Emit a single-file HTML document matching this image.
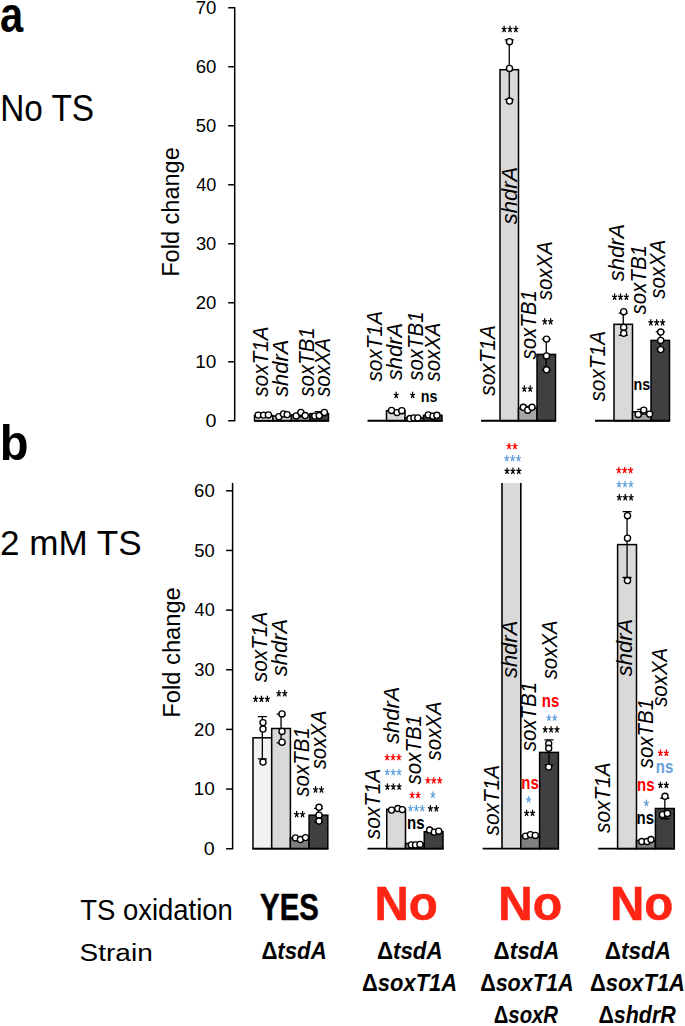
<!DOCTYPE html><html><head><meta charset="utf-8"><style>html,body{margin:0;padding:0;background:#fff}svg{display:block}text{font-family:"Liberation Sans",sans-serif}</style></head><body>
<svg width="685" height="1026" viewBox="0 0 685 1026">
<rect width="685" height="1026" fill="#fff"/>
<text transform="translate(-0.05,32.31) scale(0.8454,1)" font-size="49.32" font-weight="bold">a</text>
<text transform="translate(0.15,120.84) scale(0.9226,1)" font-size="36.18">No TS</text>
<text transform="translate(-0.26,460.4) scale(0.9516,1)" font-size="49.52" font-weight="bold">b</text>
<text transform="translate(-0,554.85) scale(0.9971,1)" font-size="35.19">2 mM TS</text>
<path d="M228.2 420.8H234.7V7.73H228.2" stroke="#000" stroke-width="1.5" fill="none" stroke-linejoin="miter"/>
<line x1="228.2" y1="361.79" x2="234.7" y2="361.79" stroke="#000" stroke-width="1.5"/>
<line x1="228.2" y1="302.78" x2="234.7" y2="302.78" stroke="#000" stroke-width="1.5"/>
<line x1="228.2" y1="243.77" x2="234.7" y2="243.77" stroke="#000" stroke-width="1.5"/>
<line x1="228.2" y1="184.76" x2="234.7" y2="184.76" stroke="#000" stroke-width="1.5"/>
<line x1="228.2" y1="125.75" x2="234.7" y2="125.75" stroke="#000" stroke-width="1.5"/>
<line x1="228.2" y1="66.74" x2="234.7" y2="66.74" stroke="#000" stroke-width="1.5"/>
<text transform="translate(205.41,426.92) scale(1.0714,1)" font-size="18.37">0</text>
<text transform="translate(195.17,367.91) scale(1.0366,1)" font-size="18.37">10</text>
<text transform="translate(195.67,308.9) scale(1.0113,1)" font-size="18.37">20</text>
<text transform="translate(195.91,249.89)" font-size="18.37">30</text>
<text transform="translate(196.19,190.88) scale(0.9848,1)" font-size="18.37">40</text>
<text transform="translate(195.86,131.87) scale(1.0015,1)" font-size="18.37">50</text>
<text transform="translate(195.67,72.86) scale(1.0113,1)" font-size="18.37">60</text>
<text transform="translate(195.67,13.85) scale(1.0113,1)" font-size="18.37">70</text>
<text transform="translate(179.19,276.84) rotate(-90) scale(1.0172,1)" font-size="23.16">Fold change</text>
<path d="M226.1 848.7H232.6V483" stroke="#000" stroke-width="1.5" fill="none" stroke-linejoin="miter"/>
<line x1="226.1" y1="789.05" x2="232.6" y2="789.05" stroke="#000" stroke-width="1.5"/>
<line x1="226.1" y1="729.4" x2="232.6" y2="729.4" stroke="#000" stroke-width="1.5"/>
<line x1="226.1" y1="669.75" x2="232.6" y2="669.75" stroke="#000" stroke-width="1.5"/>
<line x1="226.1" y1="610.1" x2="232.6" y2="610.1" stroke="#000" stroke-width="1.5"/>
<line x1="226.1" y1="550.45" x2="232.6" y2="550.45" stroke="#000" stroke-width="1.5"/>
<line x1="226.1" y1="490.8" x2="232.6" y2="490.8" stroke="#000" stroke-width="1.5"/>
<text transform="translate(203.81,854.82) scale(1.0714,1)" font-size="18.37">0</text>
<text transform="translate(193.57,795.17) scale(1.0366,1)" font-size="18.37">10</text>
<text transform="translate(194.07,735.52) scale(1.0113,1)" font-size="18.37">20</text>
<text transform="translate(194.31,675.87)" font-size="18.37">30</text>
<text transform="translate(194.59,616.22) scale(0.9848,1)" font-size="18.37">40</text>
<text transform="translate(194.26,556.57) scale(1.0015,1)" font-size="18.37">50</text>
<text transform="translate(194.07,496.92) scale(1.0113,1)" font-size="18.37">60</text>
<text transform="translate(179.82,717.66) rotate(-90) scale(0.9870,1)" font-size="24.02">Fold change</text>
<rect x="254.5" y="415.5" width="18.5" height="5.25" fill="#f2f2f2" stroke="#000" stroke-width="1.5"/>
<rect x="273" y="416.1" width="18.5" height="4.65" fill="#d9d9d9" stroke="#000" stroke-width="1.5"/>
<rect x="291.5" y="414.9" width="18.5" height="5.85" fill="#a6a6a6" stroke="#000" stroke-width="1.5"/>
<rect x="310" y="413.6" width="18.5" height="7.15" fill="#404040" stroke="#000" stroke-width="1.5"/>
<line x1="254" y1="420.75" x2="329" y2="420.75" stroke="#000" stroke-width="1.8"/>
<path d="M300.75 412.98V416.82M296.25 412.98H305.25M296.25 416.82H305.25" stroke="#000" stroke-width="1.3" fill="none"/>
<path d="M319.25 411.61V415.59M314.75 411.61H323.75M314.75 415.59H323.75" stroke="#000" stroke-width="1.3" fill="none"/>
<circle cx="258.1" cy="415.1" r="3.05" fill="#fff" stroke="#000" stroke-width="1.35"/>
<circle cx="263.6" cy="415.1" r="3.05" fill="#fff" stroke="#000" stroke-width="1.35"/>
<circle cx="268.4" cy="414.9" r="3.05" fill="#fff" stroke="#000" stroke-width="1.35"/>
<circle cx="278.8" cy="416.7" r="3.05" fill="#fff" stroke="#000" stroke-width="1.35"/>
<circle cx="283.5" cy="413.9" r="3.05" fill="#fff" stroke="#000" stroke-width="1.35"/>
<circle cx="287.2" cy="414.6" r="3.05" fill="#fff" stroke="#000" stroke-width="1.35"/>
<circle cx="296.2" cy="415.9" r="3.05" fill="#fff" stroke="#000" stroke-width="1.35"/>
<circle cx="300.9" cy="412.4" r="3.05" fill="#fff" stroke="#000" stroke-width="1.35"/>
<circle cx="305.2" cy="415.5" r="3.05" fill="#fff" stroke="#000" stroke-width="1.35"/>
<circle cx="314.8" cy="416.1" r="3.05" fill="#fff" stroke="#000" stroke-width="1.35"/>
<circle cx="319.2" cy="415.5" r="3.05" fill="#fff" stroke="#000" stroke-width="1.35"/>
<circle cx="324.4" cy="412.4" r="3.05" fill="#fff" stroke="#000" stroke-width="1.35"/>
<text transform="translate(267.88,396.85) rotate(-90) scale(0.9381,1)" font-size="22.2" font-style="italic">soxT1A</text>
<text transform="translate(287.98,396.85) rotate(-90) scale(0.9891,1)" font-size="22.2" font-style="italic">shdrA</text>
<text transform="translate(313.78,396.65) rotate(-90) scale(0.9227,1)" font-size="22.2" font-style="italic">soxTB1</text>
<text transform="translate(330.18,396.85) rotate(-90) scale(0.9208,1)" font-size="22.2" font-style="italic">soxXA</text>
<rect x="386.5" y="410.7" width="18.5" height="10.05" fill="#d9d9d9" stroke="#000" stroke-width="1.5"/>
<rect x="405" y="417.9" width="18.5" height="2.85" fill="#a6a6a6" stroke="#000" stroke-width="1.5"/>
<rect x="423.5" y="415.3" width="18.5" height="5.45" fill="#404040" stroke="#000" stroke-width="1.5"/>
<line x1="367.5" y1="420.75" x2="442.5" y2="420.75" stroke="#000" stroke-width="1.8"/>
<circle cx="391.5" cy="410.4" r="3.05" fill="#fff" stroke="#000" stroke-width="1.35"/>
<circle cx="397" cy="412.6" r="3.05" fill="#fff" stroke="#000" stroke-width="1.35"/>
<circle cx="401.8" cy="410.7" r="3.05" fill="#fff" stroke="#000" stroke-width="1.35"/>
<circle cx="410" cy="418.5" r="3.05" fill="#fff" stroke="#000" stroke-width="1.35"/>
<circle cx="413.9" cy="417.9" r="3.05" fill="#fff" stroke="#000" stroke-width="1.35"/>
<circle cx="417.8" cy="417.9" r="3.05" fill="#fff" stroke="#000" stroke-width="1.35"/>
<circle cx="428.3" cy="414.9" r="3.05" fill="#fff" stroke="#000" stroke-width="1.35"/>
<circle cx="433" cy="416.2" r="3.05" fill="#fff" stroke="#000" stroke-width="1.35"/>
<circle cx="436.9" cy="415.3" r="3.05" fill="#fff" stroke="#000" stroke-width="1.35"/>
<path d="M396.20 395.19L396.20 392.19M396.20 395.19L398.25 394.26M396.20 395.19L397.47 397.61M396.20 395.19L394.93 397.61M396.20 395.19L394.15 394.26" stroke="#000" stroke-width="1.25" stroke-linecap="round" fill="none"/>
<path d="M412.60 395.19L412.60 392.19M412.60 395.19L414.65 394.26M412.60 395.19L413.87 397.61M412.60 395.19L411.33 397.61M412.60 395.19L410.55 394.26" stroke="#000" stroke-width="1.25" stroke-linecap="round" fill="none"/>
<text transform="translate(420.76,402.03) scale(0.86,1)" font-size="16.6" font-weight="bold">ns</text>
<text transform="translate(381.88,381.55) rotate(-90) scale(0.9381,1)" font-size="22.2" font-style="italic">soxT1A</text>
<text transform="translate(401.58,380.15) rotate(-90) scale(0.9891,1)" font-size="22.2" font-style="italic">shdrA</text>
<text transform="translate(423.48,380.85) rotate(-90) scale(0.9227,1)" font-size="22.2" font-style="italic">soxTB1</text>
<text transform="translate(439.88,381.55) rotate(-90) scale(0.9208,1)" font-size="22.2" font-style="italic">soxXA</text>
<rect x="500" y="69.7" width="18.5" height="351.05" fill="#d9d9d9" stroke="#000" stroke-width="1.5"/>
<rect x="518.5" y="408" width="18.5" height="12.75" fill="#a6a6a6" stroke="#000" stroke-width="1.5"/>
<rect x="537" y="354.4" width="18.5" height="66.35" fill="#404040" stroke="#000" stroke-width="1.5"/>
<line x1="481" y1="420.75" x2="556" y2="420.75" stroke="#000" stroke-width="1.8"/>
<path d="M509.25 39.95V99.45M504.75 39.95H513.75M504.75 99.45H513.75" stroke="#000" stroke-width="1.3" fill="none"/>
<path d="M527.75 406.33V409.67M523.25 406.33H532.25M523.25 409.67H532.25" stroke="#000" stroke-width="1.3" fill="none"/>
<path d="M546.25 339.03V369.77M541.75 339.03H550.75M541.75 369.77H550.75" stroke="#000" stroke-width="1.3" fill="none"/>
<circle cx="509.5" cy="41.7" r="3.05" fill="#fff" stroke="#000" stroke-width="1.35"/>
<circle cx="509.5" cy="68.4" r="3.05" fill="#fff" stroke="#000" stroke-width="1.35"/>
<circle cx="509.5" cy="101.1" r="3.05" fill="#fff" stroke="#000" stroke-width="1.35"/>
<circle cx="523.3" cy="407.3" r="3.05" fill="#fff" stroke="#000" stroke-width="1.35"/>
<circle cx="527.7" cy="410.2" r="3.05" fill="#fff" stroke="#000" stroke-width="1.35"/>
<circle cx="532" cy="407.3" r="3.05" fill="#fff" stroke="#000" stroke-width="1.35"/>
<circle cx="546.5" cy="339.1" r="3.05" fill="#fff" stroke="#000" stroke-width="1.35"/>
<circle cx="546.5" cy="355.9" r="3.05" fill="#fff" stroke="#000" stroke-width="1.35"/>
<circle cx="546.5" cy="369.8" r="3.05" fill="#fff" stroke="#000" stroke-width="1.35"/>
<path d="M504.10 29.19L504.10 26.19M504.10 29.19L506.15 28.26M504.10 29.19L505.37 31.61M504.10 29.19L502.83 31.61M504.10 29.19L502.05 28.26M510.00 29.19L510.00 26.19M510.00 29.19L512.05 28.26M510.00 29.19L511.27 31.61M510.00 29.19L508.73 31.61M510.00 29.19L507.95 28.26M515.90 29.19L515.90 26.19M515.90 29.19L517.95 28.26M515.90 29.19L517.17 31.61M515.90 29.19L514.63 31.61M515.90 29.19L513.85 28.26" stroke="#000" stroke-width="1.25" stroke-linecap="round" fill="none"/>
<path d="M524.35 388.89L524.35 385.89M524.35 388.89L526.40 387.96M524.35 388.89L525.62 391.31M524.35 388.89L523.08 391.31M524.35 388.89L522.30 387.96M530.25 388.89L530.25 385.89M530.25 388.89L532.30 387.96M530.25 388.89L531.52 391.31M530.25 388.89L528.98 391.31M530.25 388.89L528.20 387.96" stroke="#000" stroke-width="1.25" stroke-linecap="round" fill="none"/>
<path d="M544.75 321.59L544.75 318.59M544.75 321.59L546.80 320.66M544.75 321.59L546.02 324.01M544.75 321.59L543.48 324.01M544.75 321.59L542.70 320.66M550.65 321.59L550.65 318.59M550.65 321.59L552.70 320.66M550.65 321.59L551.92 324.01M550.65 321.59L549.38 324.01M550.65 321.59L548.60 320.66" stroke="#000" stroke-width="1.25" stroke-linecap="round" fill="none"/>
<text transform="translate(494.58,395.65) rotate(-90) scale(0.9381,1)" font-size="22.2" font-style="italic">soxT1A</text>
<text transform="translate(516.78,224.15) rotate(-90) scale(0.9891,1)" font-size="22.2" font-style="italic">shdrA</text>
<text transform="translate(535.68,359.55) rotate(-90) scale(0.9227,1)" font-size="22.2" font-style="italic">soxTB1</text>
<text transform="translate(552.28,300.25) rotate(-90) scale(0.9208,1)" font-size="22.2" font-style="italic">soxXA</text>
<rect x="614" y="324.3" width="18.5" height="96.45" fill="#d9d9d9" stroke="#000" stroke-width="1.5"/>
<rect x="632.5" y="411.8" width="18.5" height="8.95" fill="#a6a6a6" stroke="#000" stroke-width="1.5"/>
<rect x="651" y="340.4" width="18.5" height="80.35" fill="#404040" stroke="#000" stroke-width="1.5"/>
<line x1="595" y1="420.75" x2="670" y2="420.75" stroke="#000" stroke-width="1.8"/>
<path d="M623.25 313.14V335.46M618.75 313.14H627.75M618.75 335.46H627.75" stroke="#000" stroke-width="1.3" fill="none"/>
<path d="M641.75 409.4V414.2M637.25 409.4H646.25M637.25 414.2H646.25" stroke="#000" stroke-width="1.3" fill="none"/>
<path d="M660.25 331.6V349.2M655.75 331.6H664.75M655.75 349.2H664.75" stroke="#000" stroke-width="1.3" fill="none"/>
<circle cx="623.7" cy="311.7" r="3.05" fill="#fff" stroke="#000" stroke-width="1.35"/>
<circle cx="623.7" cy="327.4" r="3.05" fill="#fff" stroke="#000" stroke-width="1.35"/>
<circle cx="623.7" cy="333.3" r="3.05" fill="#fff" stroke="#000" stroke-width="1.35"/>
<circle cx="638.2" cy="414.4" r="3.05" fill="#fff" stroke="#000" stroke-width="1.35"/>
<circle cx="643.7" cy="410.1" r="3.05" fill="#fff" stroke="#000" stroke-width="1.35"/>
<circle cx="649.6" cy="414.1" r="3.05" fill="#fff" stroke="#000" stroke-width="1.35"/>
<circle cx="660.7" cy="332" r="3.05" fill="#fff" stroke="#000" stroke-width="1.35"/>
<circle cx="660.7" cy="340.4" r="3.05" fill="#fff" stroke="#000" stroke-width="1.35"/>
<circle cx="660.7" cy="349.6" r="3.05" fill="#fff" stroke="#000" stroke-width="1.35"/>
<path d="M614.60 296.99L614.60 293.99M614.60 296.99L616.65 296.06M614.60 296.99L615.87 299.41M614.60 296.99L613.33 299.41M614.60 296.99L612.55 296.06M620.50 296.99L620.50 293.99M620.50 296.99L622.55 296.06M620.50 296.99L621.77 299.41M620.50 296.99L619.23 299.41M620.50 296.99L618.45 296.06M626.40 296.99L626.40 293.99M626.40 296.99L628.45 296.06M626.40 296.99L627.67 299.41M626.40 296.99L625.13 299.41M626.40 296.99L624.35 296.06" stroke="#000" stroke-width="1.25" stroke-linecap="round" fill="none"/>
<text transform="translate(633.51,390.18) scale(0.86,1)" font-size="16.6" font-weight="bold">ns</text>
<path d="M650.80 322.59L650.80 319.59M650.80 322.59L652.85 321.66M650.80 322.59L652.07 325.01M650.80 322.59L649.53 325.01M650.80 322.59L648.75 321.66M656.70 322.59L656.70 319.59M656.70 322.59L658.75 321.66M656.70 322.59L657.97 325.01M656.70 322.59L655.43 325.01M656.70 322.59L654.65 321.66M662.60 322.59L662.60 319.59M662.60 322.59L664.65 321.66M662.60 322.59L663.87 325.01M662.60 322.59L661.33 325.01M662.60 322.59L660.55 321.66" stroke="#000" stroke-width="1.25" stroke-linecap="round" fill="none"/>
<text transform="translate(605.48,401.55) rotate(-90) scale(0.9381,1)" font-size="22.2" font-style="italic">soxT1A</text>
<text transform="translate(624.08,281.15) rotate(-90) scale(0.9891,1)" font-size="22.2" font-style="italic">shdrA</text>
<text transform="translate(646.28,314.45) rotate(-90) scale(0.9227,1)" font-size="22.2" font-style="italic">soxTB1</text>
<text transform="translate(664.78,298.75) rotate(-90) scale(0.9208,1)" font-size="22.2" font-style="italic">soxXA</text>
<rect x="253" y="737.8" width="18.7" height="110.9" fill="#f2f2f2" stroke="#000" stroke-width="1.5"/>
<rect x="271.7" y="728.5" width="18.7" height="120.2" fill="#d9d9d9" stroke="#000" stroke-width="1.5"/>
<rect x="290.4" y="838" width="18.7" height="10.7" fill="#808080" stroke="#000" stroke-width="1.5"/>
<rect x="309.1" y="815.2" width="18.7" height="33.5" fill="#404040" stroke="#000" stroke-width="1.5"/>
<line x1="252.5" y1="848.7" x2="328.3" y2="848.7" stroke="#000" stroke-width="1.8"/>
<path d="M262.35 716.66V758.94M257.85 716.66H266.85M257.85 758.94H266.85" stroke="#000" stroke-width="1.3" fill="none"/>
<path d="M281.05 714.22V742.78M276.55 714.22H285.55M276.55 742.78H285.55" stroke="#000" stroke-width="1.3" fill="none"/>
<path d="M318.45 808.32V822.08M313.95 808.32H322.95M313.95 822.08H322.95" stroke="#000" stroke-width="1.3" fill="none"/>
<circle cx="263" cy="722.6" r="3.05" fill="#fff" stroke="#000" stroke-width="1.35"/>
<circle cx="263" cy="729" r="3.05" fill="#fff" stroke="#000" stroke-width="1.35"/>
<circle cx="263" cy="762" r="3.05" fill="#fff" stroke="#000" stroke-width="1.35"/>
<circle cx="282" cy="713.9" r="3.05" fill="#fff" stroke="#000" stroke-width="1.35"/>
<circle cx="282" cy="731.4" r="3.05" fill="#fff" stroke="#000" stroke-width="1.35"/>
<circle cx="282" cy="742.2" r="3.05" fill="#fff" stroke="#000" stroke-width="1.35"/>
<circle cx="295.5" cy="837.9" r="3.05" fill="#fff" stroke="#000" stroke-width="1.35"/>
<circle cx="300.4" cy="839.5" r="3.05" fill="#fff" stroke="#000" stroke-width="1.35"/>
<circle cx="305.5" cy="837.6" r="3.05" fill="#fff" stroke="#000" stroke-width="1.35"/>
<circle cx="319" cy="807.3" r="3.05" fill="#fff" stroke="#000" stroke-width="1.35"/>
<circle cx="319" cy="815.2" r="3.05" fill="#fff" stroke="#000" stroke-width="1.35"/>
<circle cx="319" cy="821" r="3.05" fill="#fff" stroke="#000" stroke-width="1.35"/>
<path d="M255.60 699.09L255.60 696.09M255.60 699.09L257.65 698.16M255.60 699.09L256.87 701.51M255.60 699.09L254.33 701.51M255.60 699.09L253.55 698.16M261.50 699.09L261.50 696.09M261.50 699.09L263.55 698.16M261.50 699.09L262.77 701.51M261.50 699.09L260.23 701.51M261.50 699.09L259.45 698.16M267.40 699.09L267.40 696.09M267.40 699.09L269.45 698.16M267.40 699.09L268.67 701.51M267.40 699.09L266.13 701.51M267.40 699.09L265.35 698.16" stroke="#000" stroke-width="1.25" stroke-linecap="round" fill="none"/>
<path d="M278.85 693.49L278.85 690.49M278.85 693.49L280.90 692.56M278.85 693.49L280.12 695.91M278.85 693.49L277.58 695.91M278.85 693.49L276.80 692.56M284.75 693.49L284.75 690.49M284.75 693.49L286.80 692.56M284.75 693.49L286.02 695.91M284.75 693.49L283.48 695.91M284.75 693.49L282.70 692.56" stroke="#000" stroke-width="1.25" stroke-linecap="round" fill="none"/>
<path d="M296.65 814.39L296.65 811.39M296.65 814.39L298.70 813.46M296.65 814.39L297.92 816.81M296.65 814.39L295.38 816.81M296.65 814.39L294.60 813.46M302.55 814.39L302.55 811.39M302.55 814.39L304.60 813.46M302.55 814.39L303.82 816.81M302.55 814.39L301.28 816.81M302.55 814.39L300.50 813.46" stroke="#000" stroke-width="1.25" stroke-linecap="round" fill="none"/>
<path d="M315.55 789.69L315.55 786.69M315.55 789.69L317.60 788.76M315.55 789.69L316.82 792.11M315.55 789.69L314.28 792.11M315.55 789.69L313.50 788.76M321.45 789.69L321.45 786.69M321.45 789.69L323.50 788.76M321.45 789.69L322.72 792.11M321.45 789.69L320.18 792.11M321.45 789.69L319.40 788.76" stroke="#000" stroke-width="1.25" stroke-linecap="round" fill="none"/>
<text transform="translate(267.08,682.15) rotate(-90) scale(0.9381,1)" font-size="22.2" font-style="italic">soxT1A</text>
<text transform="translate(287.48,676.25) rotate(-90) scale(0.9891,1)" font-size="22.2" font-style="italic">shdrA</text>
<text transform="translate(309.38,796.65) rotate(-90) scale(0.9227,1)" font-size="22.2" font-style="italic">soxTB1</text>
<text transform="translate(325.78,769.35) rotate(-90) scale(0.9208,1)" font-size="22.2" font-style="italic">soxXA</text>
<rect x="386.75" y="809.3" width="18.75" height="39.4" fill="#d9d9d9" stroke="#000" stroke-width="1.5"/>
<rect x="405.5" y="843.5" width="18.75" height="5.2" fill="#808080" stroke="#000" stroke-width="1.5"/>
<rect x="424.25" y="831.7" width="18.75" height="17" fill="#404040" stroke="#000" stroke-width="1.5"/>
<line x1="367.5" y1="848.7" x2="443.5" y2="848.7" stroke="#000" stroke-width="1.8"/>
<circle cx="391.5" cy="810.1" r="3.05" fill="#fff" stroke="#000" stroke-width="1.35"/>
<circle cx="397.8" cy="808.5" r="3.05" fill="#fff" stroke="#000" stroke-width="1.35"/>
<circle cx="402.3" cy="809.6" r="3.05" fill="#fff" stroke="#000" stroke-width="1.35"/>
<circle cx="411.4" cy="844.9" r="3.05" fill="#fff" stroke="#000" stroke-width="1.35"/>
<circle cx="415.5" cy="844.9" r="3.05" fill="#fff" stroke="#000" stroke-width="1.35"/>
<circle cx="420" cy="844.4" r="3.05" fill="#fff" stroke="#000" stroke-width="1.35"/>
<circle cx="429.6" cy="830" r="3.05" fill="#fff" stroke="#000" stroke-width="1.35"/>
<circle cx="434.3" cy="832.2" r="3.05" fill="#fff" stroke="#000" stroke-width="1.35"/>
<circle cx="438.7" cy="831.2" r="3.05" fill="#fff" stroke="#000" stroke-width="1.35"/>
<path d="M387.10 757.39L387.10 754.39M387.10 757.39L389.15 756.46M387.10 757.39L388.37 759.81M387.10 757.39L385.83 759.81M387.10 757.39L385.05 756.46M393.00 757.39L393.00 754.39M393.00 757.39L395.05 756.46M393.00 757.39L394.27 759.81M393.00 757.39L391.73 759.81M393.00 757.39L390.95 756.46M398.90 757.39L398.90 754.39M398.90 757.39L400.95 756.46M398.90 757.39L400.17 759.81M398.90 757.39L397.63 759.81M398.90 757.39L396.85 756.46" stroke="#ff0000" stroke-width="1.25" stroke-linecap="round" fill="none"/>
<path d="M387.30 772.29L387.30 769.29M387.30 772.29L389.35 771.36M387.30 772.29L388.57 774.71M387.30 772.29L386.03 774.71M387.30 772.29L385.25 771.36M393.20 772.29L393.20 769.29M393.20 772.29L395.25 771.36M393.20 772.29L394.47 774.71M393.20 772.29L391.93 774.71M393.20 772.29L391.15 771.36M399.10 772.29L399.10 769.29M399.10 772.29L401.15 771.36M399.10 772.29L400.37 774.71M399.10 772.29L397.83 774.71M399.10 772.29L397.05 771.36" stroke="#66a3dd" stroke-width="1.25" stroke-linecap="round" fill="none"/>
<path d="M387.40 786.79L387.40 783.79M387.40 786.79L389.45 785.86M387.40 786.79L388.67 789.21M387.40 786.79L386.13 789.21M387.40 786.79L385.35 785.86M393.30 786.79L393.30 783.79M393.30 786.79L395.35 785.86M393.30 786.79L394.57 789.21M393.30 786.79L392.03 789.21M393.30 786.79L391.25 785.86M399.20 786.79L399.20 783.79M399.20 786.79L401.25 785.86M399.20 786.79L400.47 789.21M399.20 786.79L397.93 789.21M399.20 786.79L397.15 785.86" stroke="#000" stroke-width="1.25" stroke-linecap="round" fill="none"/>
<path d="M412.15 795.19L412.15 792.19M412.15 795.19L414.20 794.26M412.15 795.19L413.42 797.61M412.15 795.19L410.88 797.61M412.15 795.19L410.10 794.26M418.05 795.19L418.05 792.19M418.05 795.19L420.10 794.26M418.05 795.19L419.32 797.61M418.05 795.19L416.78 797.61M418.05 795.19L416.00 794.26" stroke="#ff0000" stroke-width="1.25" stroke-linecap="round" fill="none"/>
<path d="M410.50 808.39L410.50 805.39M410.50 808.39L412.55 807.46M410.50 808.39L411.77 810.81M410.50 808.39L409.23 810.81M410.50 808.39L408.45 807.46M416.40 808.39L416.40 805.39M416.40 808.39L418.45 807.46M416.40 808.39L417.67 810.81M416.40 808.39L415.13 810.81M416.40 808.39L414.35 807.46M422.30 808.39L422.30 805.39M422.30 808.39L424.35 807.46M422.30 808.39L423.57 810.81M422.30 808.39L421.03 810.81M422.30 808.39L420.25 807.46" stroke="#66a3dd" stroke-width="1.25" stroke-linecap="round" fill="none"/>
<text transform="translate(407.05,829.22) scale(0.86,1)" font-size="17.5" font-weight="bold">ns</text>
<path d="M427.90 780.59L427.90 777.59M427.90 780.59L429.95 779.66M427.90 780.59L429.17 783.01M427.90 780.59L426.63 783.01M427.90 780.59L425.85 779.66M433.80 780.59L433.80 777.59M433.80 780.59L435.85 779.66M433.80 780.59L435.07 783.01M433.80 780.59L432.53 783.01M433.80 780.59L431.75 779.66M439.70 780.59L439.70 777.59M439.70 780.59L441.75 779.66M439.70 780.59L440.97 783.01M439.70 780.59L438.43 783.01M439.70 780.59L437.65 779.66" stroke="#ff0000" stroke-width="1.25" stroke-linecap="round" fill="none"/>
<path d="M432.90 794.89L432.90 791.89M432.90 794.89L434.95 793.96M432.90 794.89L434.17 797.31M432.90 794.89L431.63 797.31M432.90 794.89L430.85 793.96" stroke="#66a3dd" stroke-width="1.25" stroke-linecap="round" fill="none"/>
<path d="M430.45 808.59L430.45 805.59M430.45 808.59L432.50 807.66M430.45 808.59L431.72 811.01M430.45 808.59L429.18 811.01M430.45 808.59L428.40 807.66M436.35 808.59L436.35 805.59M436.35 808.59L438.40 807.66M436.35 808.59L437.62 811.01M436.35 808.59L435.08 811.01M436.35 808.59L434.30 807.66" stroke="#000" stroke-width="1.25" stroke-linecap="round" fill="none"/>
<text transform="translate(380.48,839.15) rotate(-90) scale(0.9381,1)" font-size="22.2" font-style="italic">soxT1A</text>
<text transform="translate(398.78,743.85) rotate(-90) scale(0.9891,1)" font-size="22.2" font-style="italic">shdrA</text>
<text transform="translate(420.78,784.45) rotate(-90) scale(0.9227,1)" font-size="22.2" font-style="italic">soxTB1</text>
<text transform="translate(440.68,760.45) rotate(-90) scale(0.9208,1)" font-size="22.2" font-style="italic">soxXA</text>
<rect x="502" y="483.1" width="18.8" height="365.6" fill="#d9d9d9"/>
<path d="M502 483.1V848.7M520.8 483.1V848.7" stroke="#000" stroke-width="1.6" fill="none"/>
<rect x="520.8" y="836" width="18.8" height="12.7" fill="#808080" stroke="#000" stroke-width="1.5"/>
<rect x="539.6" y="752.4" width="18.8" height="96.3" fill="#404040" stroke="#000" stroke-width="1.5"/>
<line x1="482.7" y1="848.7" x2="558.9" y2="848.7" stroke="#000" stroke-width="1.8"/>
<path d="M549 739.96V764.84M544.5 739.96H553.5M544.5 764.84H553.5" stroke="#000" stroke-width="1.3" fill="none"/>
<circle cx="525.6" cy="836.1" r="3.05" fill="#fff" stroke="#000" stroke-width="1.35"/>
<circle cx="530.4" cy="834.6" r="3.05" fill="#fff" stroke="#000" stroke-width="1.35"/>
<circle cx="535.3" cy="835.4" r="3.05" fill="#fff" stroke="#000" stroke-width="1.35"/>
<circle cx="548.7" cy="743.6" r="3.05" fill="#fff" stroke="#000" stroke-width="1.35"/>
<circle cx="548.7" cy="748.3" r="3.05" fill="#fff" stroke="#000" stroke-width="1.35"/>
<circle cx="548.7" cy="767.1" r="3.05" fill="#fff" stroke="#000" stroke-width="1.35"/>
<path d="M509.05 446.29L509.05 443.29M509.05 446.29L511.10 445.36M509.05 446.29L510.32 448.71M509.05 446.29L507.78 448.71M509.05 446.29L507.00 445.36M514.95 446.29L514.95 443.29M514.95 446.29L517.00 445.36M514.95 446.29L516.22 448.71M514.95 446.29L513.68 448.71M514.95 446.29L512.90 445.36" stroke="#ff0000" stroke-width="1.25" stroke-linecap="round" fill="none"/>
<path d="M506.70 458.39L506.70 455.39M506.70 458.39L508.75 457.46M506.70 458.39L507.97 460.81M506.70 458.39L505.43 460.81M506.70 458.39L504.65 457.46M512.60 458.39L512.60 455.39M512.60 458.39L514.65 457.46M512.60 458.39L513.87 460.81M512.60 458.39L511.33 460.81M512.60 458.39L510.55 457.46M518.50 458.39L518.50 455.39M518.50 458.39L520.55 457.46M518.50 458.39L519.77 460.81M518.50 458.39L517.23 460.81M518.50 458.39L516.45 457.46" stroke="#66a3dd" stroke-width="1.25" stroke-linecap="round" fill="none"/>
<path d="M507.00 471.09L507.00 468.09M507.00 471.09L509.05 470.16M507.00 471.09L508.27 473.51M507.00 471.09L505.73 473.51M507.00 471.09L504.95 470.16M512.90 471.09L512.90 468.09M512.90 471.09L514.95 470.16M512.90 471.09L514.17 473.51M512.90 471.09L511.63 473.51M512.90 471.09L510.85 470.16M518.80 471.09L518.80 468.09M518.80 471.09L520.85 470.16M518.80 471.09L520.07 473.51M518.80 471.09L517.53 473.51M518.80 471.09L516.75 470.16" stroke="#000" stroke-width="1.25" stroke-linecap="round" fill="none"/>
<text transform="translate(521.25,789.12) scale(0.86,1)" font-size="17.5" font-weight="bold" fill="#ff0000">ns</text>
<path d="M528.60 799.59L528.60 796.59M528.60 799.59L530.65 798.66M528.60 799.59L529.87 802.01M528.60 799.59L527.33 802.01M528.60 799.59L526.55 798.66" stroke="#66a3dd" stroke-width="1.25" stroke-linecap="round" fill="none"/>
<path d="M526.65 813.09L526.65 810.09M526.65 813.09L528.70 812.16M526.65 813.09L527.92 815.51M526.65 813.09L525.38 815.51M526.65 813.09L524.60 812.16M532.55 813.09L532.55 810.09M532.55 813.09L534.60 812.16M532.55 813.09L533.82 815.51M532.55 813.09L531.28 815.51M532.55 813.09L530.50 812.16" stroke="#000" stroke-width="1.25" stroke-linecap="round" fill="none"/>
<text transform="translate(541.85,707.32) scale(0.86,1)" font-size="17.5" font-weight="bold" fill="#ff0000">ns</text>
<path d="M548.85 717.89L548.85 714.89M548.85 717.89L550.90 716.96M548.85 717.89L550.12 720.31M548.85 717.89L547.58 720.31M548.85 717.89L546.80 716.96M554.75 717.89L554.75 714.89M554.75 717.89L556.80 716.96M554.75 717.89L556.02 720.31M554.75 717.89L553.48 720.31M554.75 717.89L552.70 716.96" stroke="#66a3dd" stroke-width="1.25" stroke-linecap="round" fill="none"/>
<path d="M545.20 729.59L545.20 726.59M545.20 729.59L547.25 728.66M545.20 729.59L546.47 732.01M545.20 729.59L543.93 732.01M545.20 729.59L543.15 728.66M551.10 729.59L551.10 726.59M551.10 729.59L553.15 728.66M551.10 729.59L552.37 732.01M551.10 729.59L549.83 732.01M551.10 729.59L549.05 728.66M557.00 729.59L557.00 726.59M557.00 729.59L559.05 728.66M557.00 729.59L558.27 732.01M557.00 729.59L555.73 732.01M557.00 729.59L554.95 728.66" stroke="#000" stroke-width="1.25" stroke-linecap="round" fill="none"/>
<text transform="translate(499.28,835.45) rotate(-90) scale(0.9381,1)" font-size="22.2" font-style="italic">soxT1A</text>
<text transform="translate(517.28,678.05) rotate(-90) scale(0.9891,1)" font-size="22.2" font-style="italic">shdrA</text>
<text transform="translate(536.28,751.25) rotate(-90) scale(0.9227,1)" font-size="22.2" font-style="italic">soxTB1</text>
<text transform="translate(557.08,679.35) rotate(-90) scale(0.9208,1)" font-size="22.2" font-style="italic">soxXA</text>
<rect x="617.6" y="544.6" width="18.9" height="304.1" fill="#d9d9d9" stroke="#000" stroke-width="1.5"/>
<rect x="636.5" y="840.5" width="18.9" height="8.2" fill="#808080" stroke="#000" stroke-width="1.5"/>
<rect x="655.4" y="808.5" width="18.9" height="40.2" fill="#404040" stroke="#000" stroke-width="1.5"/>
<line x1="598.2" y1="848.7" x2="674.8" y2="848.7" stroke="#000" stroke-width="1.8"/>
<path d="M627.05 511.7V577.5M622.55 511.7H631.55M622.55 577.5H631.55" stroke="#000" stroke-width="1.3" fill="none"/>
<path d="M664.85 798.26V818.74M660.35 798.26H669.35M660.35 818.74H669.35" stroke="#000" stroke-width="1.3" fill="none"/>
<circle cx="627.5" cy="515.7" r="3.05" fill="#fff" stroke="#000" stroke-width="1.35"/>
<circle cx="627.5" cy="538.2" r="3.05" fill="#fff" stroke="#000" stroke-width="1.35"/>
<circle cx="627.5" cy="580.5" r="3.05" fill="#fff" stroke="#000" stroke-width="1.35"/>
<circle cx="641.8" cy="841.5" r="3.05" fill="#fff" stroke="#000" stroke-width="1.35"/>
<circle cx="647.1" cy="841.5" r="3.05" fill="#fff" stroke="#000" stroke-width="1.35"/>
<circle cx="651" cy="839.5" r="3.05" fill="#fff" stroke="#000" stroke-width="1.35"/>
<circle cx="665" cy="796.3" r="3.05" fill="#fff" stroke="#000" stroke-width="1.35"/>
<circle cx="662.5" cy="814.6" r="3.05" fill="#fff" stroke="#000" stroke-width="1.35"/>
<circle cx="667.4" cy="813.4" r="3.05" fill="#fff" stroke="#000" stroke-width="1.35"/>
<path d="M618.80 470.29L618.80 467.29M618.80 470.29L620.85 469.36M618.80 470.29L620.07 472.71M618.80 470.29L617.53 472.71M618.80 470.29L616.75 469.36M624.70 470.29L624.70 467.29M624.70 470.29L626.75 469.36M624.70 470.29L625.97 472.71M624.70 470.29L623.43 472.71M624.70 470.29L622.65 469.36M630.60 470.29L630.60 467.29M630.60 470.29L632.65 469.36M630.60 470.29L631.87 472.71M630.60 470.29L629.33 472.71M630.60 470.29L628.55 469.36" stroke="#ff0000" stroke-width="1.25" stroke-linecap="round" fill="none"/>
<path d="M619.10 484.39L619.10 481.39M619.10 484.39L621.15 483.46M619.10 484.39L620.37 486.81M619.10 484.39L617.83 486.81M619.10 484.39L617.05 483.46M625.00 484.39L625.00 481.39M625.00 484.39L627.05 483.46M625.00 484.39L626.27 486.81M625.00 484.39L623.73 486.81M625.00 484.39L622.95 483.46M630.90 484.39L630.90 481.39M630.90 484.39L632.95 483.46M630.90 484.39L632.17 486.81M630.90 484.39L629.63 486.81M630.90 484.39L628.85 483.46" stroke="#66a3dd" stroke-width="1.25" stroke-linecap="round" fill="none"/>
<path d="M619.30 497.49L619.30 494.49M619.30 497.49L621.35 496.56M619.30 497.49L620.57 499.91M619.30 497.49L618.03 499.91M619.30 497.49L617.25 496.56M625.20 497.49L625.20 494.49M625.20 497.49L627.25 496.56M625.20 497.49L626.47 499.91M625.20 497.49L623.93 499.91M625.20 497.49L623.15 496.56M631.10 497.49L631.10 494.49M631.10 497.49L633.15 496.56M631.10 497.49L632.37 499.91M631.10 497.49L629.83 499.91M631.10 497.49L629.05 496.56" stroke="#000" stroke-width="1.25" stroke-linecap="round" fill="none"/>
<text transform="translate(637.05,790.52) scale(0.86,1)" font-size="17.5" font-weight="bold" fill="#ff0000">ns</text>
<path d="M646.40 803.09L646.40 800.09M646.40 803.09L648.45 802.16M646.40 803.09L647.67 805.51M646.40 803.09L645.13 805.51M646.40 803.09L644.35 802.16" stroke="#66a3dd" stroke-width="1.25" stroke-linecap="round" fill="none"/>
<text transform="translate(636.55,824.12) scale(0.86,1)" font-size="17.5" font-weight="bold">ns</text>
<path d="M660.45 752.99L660.45 749.99M660.45 752.99L662.50 752.06M660.45 752.99L661.72 755.41M660.45 752.99L659.18 755.41M660.45 752.99L658.40 752.06M666.35 752.99L666.35 749.99M666.35 752.99L668.40 752.06M666.35 752.99L667.62 755.41M666.35 752.99L665.08 755.41M666.35 752.99L664.30 752.06" stroke="#ff0000" stroke-width="1.25" stroke-linecap="round" fill="none"/>
<text transform="translate(655.75,772.92) scale(0.86,1)" font-size="17.5" font-weight="bold" fill="#66a3dd">ns</text>
<path d="M660.45 785.09L660.45 782.09M660.45 785.09L662.50 784.16M660.45 785.09L661.72 787.51M660.45 785.09L659.18 787.51M660.45 785.09L658.40 784.16M666.35 785.09L666.35 782.09M666.35 785.09L668.40 784.16M666.35 785.09L667.62 787.51M666.35 785.09L665.08 787.51M666.35 785.09L664.30 784.16" stroke="#000" stroke-width="1.25" stroke-linecap="round" fill="none"/>
<text transform="translate(610.38,832.95) rotate(-90) scale(0.9381,1)" font-size="22.2" font-style="italic">soxT1A</text>
<text transform="translate(632.28,676.15) rotate(-90) scale(0.9891,1)" font-size="22.2" font-style="italic">shdrA</text>
<text transform="translate(652.58,768.35) rotate(-90) scale(0.9227,1)" font-size="22.2" font-style="italic">soxTB1</text>
<text transform="translate(667.18,706.85) rotate(-90) scale(0.9208,1)" font-size="22.2" font-style="italic">soxXA</text>
<text transform="translate(80.18,919.91) scale(0.9477,1)" font-size="28.98">TS oxidation</text>
<text transform="translate(79.54,961.35) scale(1.1391,1)" font-size="24.63">Strain</text>
<text transform="translate(260.09,919.53) scale(0.8005,1)" font-size="36.61" font-weight="bold" stroke="#000" stroke-width="0.5" stroke-linejoin="round">YES</text>
<text transform="translate(374.38,919.71) scale(0.9777,1)" font-size="48.75" font-weight="bold" fill="#ff2414" stroke="#ff2414" stroke-width="0.5" stroke-linejoin="round">No</text>
<text transform="translate(498.04,919.61) scale(0.9865,1)" font-size="48.89" font-weight="bold" fill="#ff2414" stroke="#ff2414" stroke-width="0.5" stroke-linejoin="round">No</text>
<text transform="translate(609.89,919.61) scale(0.9732,1)" font-size="48.89" font-weight="bold" fill="#ff2414" stroke="#ff2414" stroke-width="0.5" stroke-linejoin="round">No</text>
<text transform="translate(261.41,959) scale(0.9652,1)" font-size="23.0" font-weight="bold"><tspan>Δ</tspan><tspan font-style="italic">tsdA</tspan></text>
<text transform="translate(376.91,959) scale(0.9714,1)" font-size="23.0" font-weight="bold"><tspan>Δ</tspan><tspan font-style="italic">tsdA</tspan></text>
<text transform="translate(362.02,991.2) scale(0.9554,1)" font-size="23.0" font-weight="bold"><tspan>Δ</tspan><tspan font-style="italic">soxT1A</tspan></text>
<text transform="translate(493.6,959) scale(0.9745,1)" font-size="23.0" font-weight="bold"><tspan>Δ</tspan><tspan font-style="italic">tsdA</tspan></text>
<text transform="translate(480.14,991.2) scale(0.9378,1)" font-size="23.0" font-weight="bold"><tspan>Δ</tspan><tspan font-style="italic">soxT1A</tspan></text>
<text transform="translate(493.69,1022.5) scale(0.8846,1)" font-size="23.0" font-weight="bold"><tspan>Δ</tspan><tspan font-style="italic">soxR</tspan></text>
<text transform="translate(604.7,959) scale(0.9791,1)" font-size="23.0" font-weight="bold"><tspan>Δ</tspan><tspan font-style="italic">tsdA</tspan></text>
<text transform="translate(589.92,991.2) scale(0.9543,1)" font-size="23.0" font-weight="bold"><tspan>Δ</tspan><tspan font-style="italic">soxT1A</tspan></text>
<text transform="translate(598.44,1022.5) scale(0.9315,1)" font-size="23.0" font-weight="bold"><tspan>Δ</tspan><tspan font-style="italic">shdrR</tspan></text>
</svg></body></html>
